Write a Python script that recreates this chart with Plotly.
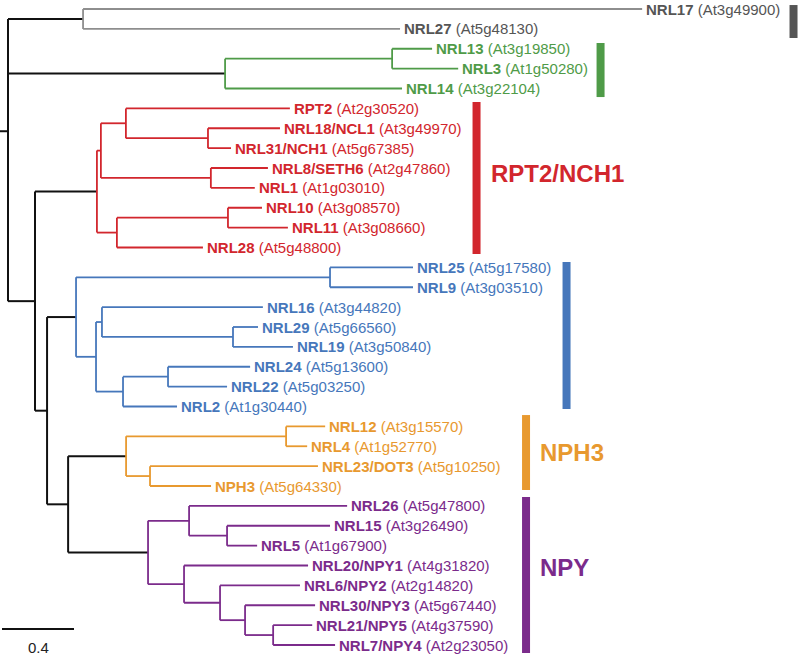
import plotly.graph_objects as go

# ---------------- data ----------------
leaf_names = ["NRL17", "NRL27", "NRL13", "NRL3", "NRL14",
              "RPT2", "NRL18/NCL1", "NRL31/NCH1", "NRL8/SETH6", "NRL1", "NRL10", "NRL11", "NRL28",
              "NRL25", "NRL9", "NRL16", "NRL29", "NRL19", "NRL24", "NRL22", "NRL2",
              "NRL12", "NRL4", "NRL23/DOT3", "NPH3",
              "NRL26", "NRL15", "NRL5", "NRL20/NPY1", "NRL6/NPY2", "NRL30/NPY3", "NRL21/NPY5", "NRL7/NPY4"]
leaf_loci = ["At3g49900", "At5g48130", "At3g19850", "At1g50280", "At3g22104",
             "At2g30520", "At3g49970", "At5g67385", "At2g47860", "At1g03010", "At3g08570", "At3g08660", "At5g48800",
             "At5g17580", "At3g03510", "At3g44820", "At5g66560", "At3g50840", "At5g13600", "At5g03250", "At1g30440",
             "At3g15570", "At1g52770", "At5g10250", "At5g64330",
             "At5g47800", "At3g26490", "At1g67900", "At4g31820", "At2g14820", "At5g67440", "At4g37590", "At2g23050"]

# tree edges: child, parent, branch length (substitutions/site)
edge_child = ["n_grey", "NRL17", "NRL27",
              "n_green", "n_g1", "NRL13", "NRL3", "NRL14",
              "nA", "n_red", "nR1", "nR1a", "RPT2", "nR1a2", "NRL18/NCL1", "NRL31/NCH1",
              "nR1b", "NRL8/SETH6", "NRL1", "nR2", "nR2a", "NRL10", "NRL11", "NRL28",
              "nB", "n_blue", "nBl1", "NRL25", "NRL9", "nBl2", "nBl2a", "NRL16", "nBl2a2", "NRL29", "NRL19",
              "nBl2b", "nBl2b1", "NRL24", "NRL22", "NRL2",
              "nC", "n_orange", "nO1", "NRL12", "NRL4", "nO2", "NRL23/DOT3", "NPH3",
              "n_purple", "nP1", "NRL26", "nP1b", "NRL15", "NRL5",
              "nP2", "NRL20/NPY1", "nP3", "NRL6/NPY2", "nP4", "NRL30/NPY3", "nP5", "NRL21/NPY5", "NRL7/NPY4"]
edge_parent = ["root", "n_grey", "n_grey",
               "root", "n_green", "n_g1", "n_g1", "n_green",
               "root", "nA", "n_red", "nR1", "nR1a", "nR1a", "nR1a2", "nR1a2",
               "nR1", "nR1b", "nR1b", "n_red", "nR2", "nR2a", "nR2a", "nR2",
               "nA", "nB", "n_blue", "nBl1", "nBl1", "n_blue", "nBl2", "nBl2a", "nBl2a", "nBl2a2", "nBl2a2",
               "nBl2", "nBl2b", "nBl2b1", "nBl2b1", "nBl2b",
               "nB", "nC", "n_orange", "nO1", "nO1", "n_orange", "nO2", "nO2",
               "nC", "n_purple", "nP1", "nP1", "nP1b", "nP1b",
               "n_purple", "nP2", "nP2", "nP3", "nP3", "nP4", "nP4", "nP5", "nP5"]
edge_length = [0.417, 3.106, 1.761,
               1.206, 0.928, 0.222, 0.367, 0.983,
               0.150, 0.344, 0.022, 0.139, 0.911, 0.456, 0.400, 0.128,
               0.611, 0.317, 0.244, 0.111, 0.617, 0.189, 0.333, 0.478,
               0.067, 0.161, 1.411, 0.461, 0.461, 0.111, 0.033, 0.894, 0.728, 0.139, 0.333,
               0.150, 0.250, 0.456, 0.328, 0.300,
               0.117, 0.322, 0.889, 0.217, 0.117, 0.133, 0.933, 0.339,
               0.444, 0.228, 0.878, 0.211, 0.572, 0.167,
               0.200, 0.689, 0.200, 0.444, 0.139, 0.389, 0.156, 0.217, 0.344]

# clades
clade_roots = ["n_grey", "n_green", "n_red", "n_blue", "n_orange", "n_purple"]
clade_first = ["NRL17", "NRL13", "RPT2", "NRL25", "NRL12", "NRL26"]
clade_last = ["NRL27", "NRL14", "NRL28", "NRL2", "NPH3", "NRL7/NPY4"]
clade_labels = ["", "", "RPT2/NCH1", "", "NPH3", "NPY"]

scale_bar_value = 0.4
scale_bar_label = "0.4"

# ---------------- style ----------------
line_colors = {"n_grey": "#8e8e8e", "n_green": "#4f9b48", "n_red": "#d2262d",
               "n_blue": "#4677bb", "n_orange": "#e8992f", "n_purple": "#7b2b8b", None: "#111111"}
text_colors = {"n_grey": "#555555", "n_green": "#4f9b48", "n_red": "#d2262d",
               "n_blue": "#4677bb", "n_orange": "#e8992f", "n_purple": "#7b2b8b"}
bar_colors = {"n_grey": "#555555", "n_green": "#4f9b48", "n_red": "#d2262d",
              "n_blue": "#4677bb", "n_orange": "#e8992f", "n_purple": "#7b2b8b"}
bar_x = [4.364, 3.292, 2.603, 3.103, 2.878, 2.878]
bar_pad_top = [0.2, 0.29, 0.32, 0.27, 0.57, 0.45]
bar_pad_bot = [0.46, 0.43, 0.33, 0.13, 0.2, 0.4]
label_dy = [0, 0, -0.25, 0, 0.0, -0.35]
FONT = "Liberation Sans, Arial, Helvetica, sans-serif"

# ---------------- layout of the tree ----------------
children = {}
length_of = {}
parent_of = {}
for c, p, l in zip(edge_child, edge_parent, edge_length):
    children.setdefault(p, []).append(c)
    length_of[c] = l
    parent_of[c] = p

xpos = {"root": 0.0}
def set_x(n):
    for c in children.get(n, []):
        xpos[c] = xpos[n] + length_of[c]
        set_x(c)
set_x("root")

ypos = {name: i for i, name in enumerate(leaf_names)}
def set_y(n):
    if n in ypos:
        return ypos[n]
    ys = [set_y(c) for c in children[n]]
    ypos[n] = sum(ys) / len(ys)
    return ypos[n]
set_y("root")

def clade_of(n):
    while n is not None:
        if n in clade_roots:
            return n
        n = parent_of.get(n)
    return None

segs = {}
def add(key, xs, ys):
    s = segs.setdefault(key, ([], []))
    s[0].extend(xs + [None]); s[1].extend(ys + [None])

for n in xpos:
    if n in children:
        ys = [ypos[c] for c in children[n]]
        add(clade_of(n), [xpos[n], xpos[n]], [min(ys), max(ys)])
    if n != "root":
        p = parent_of[n]
        add(clade_of(p), [xpos[p], xpos[n]], [ypos[n], ypos[n]])

root_stub = 8 / 180
add(None, [-root_stub, 0], [ypos["root"], ypos["root"]])

fig = go.Figure()
for key, (xs, ys) in segs.items():
    fig.add_trace(go.Scatter(x=xs, y=ys, mode="lines", hoverinfo="skip",
                             line=dict(color=line_colors[key], width=2 if key is None else 1.8)))

annotations = []
for name, locus in zip(leaf_names, leaf_loci):
    col = text_colors[clade_of(name)]
    annotations.append(dict(x=xpos[name], y=ypos[name], xref="x", yref="y",
                            text=f"<b>{name}</b> ({locus})", showarrow=False,
                            xanchor="left", yanchor="middle", xshift=2,
                            font=dict(family=FONT, size=15, color=col)))

shapes = []
for i, cr in enumerate(clade_roots):
    y0 = ypos[clade_first[i]] - bar_pad_top[i]
    y1 = ypos[clade_last[i]] + bar_pad_bot[i]
    shapes.append(dict(type="line", xref="x", yref="y", x0=bar_x[i], x1=bar_x[i], y0=y0, y1=y1,
                       line=dict(color=bar_colors[cr], width=8)))
    if clade_labels[i]:
        annotations.append(dict(x=bar_x[i], y=(y0 + y1) / 2 + label_dy[i], xref="x", yref="y",
                                text=f"<b>{clade_labels[i]}</b>", showarrow=False,
                                xanchor="left", yanchor="middle", xshift=12,
                                font=dict(family=FONT, size=24, color=bar_colors[cr])))

# scale bar
sb_x0 = -6 / 180
shapes.append(dict(type="line", xref="x", yref="paper", x0=sb_x0, x1=sb_x0 + scale_bar_value,
                   y0=1 - 629 / 655, y1=1 - 629 / 655, line=dict(color="#111111", width=2)))
annotations.append(dict(x=sb_x0 + scale_bar_value / 2, y=1 - 647 / 655, xref="x", yref="paper",
                        text=scale_bar_label, showarrow=False, xanchor="center", yanchor="middle",
                        font=dict(family=FONT, size=15, color="#222222")))

fig.update_layout(
    width=800, height=655, autosize=False,
    margin=dict(l=0, r=0, t=0, b=0),
    paper_bgcolor="white", plot_bgcolor="white",
    showlegend=False,
    xaxis=dict(range=[-8 / 180, 792 / 180], visible=False, fixedrange=True),
    yaxis=dict(range=[(655 - 9) / 19.875, -9 / 19.875], visible=False, fixedrange=True),
    shapes=shapes, annotations=annotations,
)
fig.write_html("out.html", config={"displayModeBar": False},
               post_script="document.body.style.margin='0';document.body.style.overflow='hidden';")
